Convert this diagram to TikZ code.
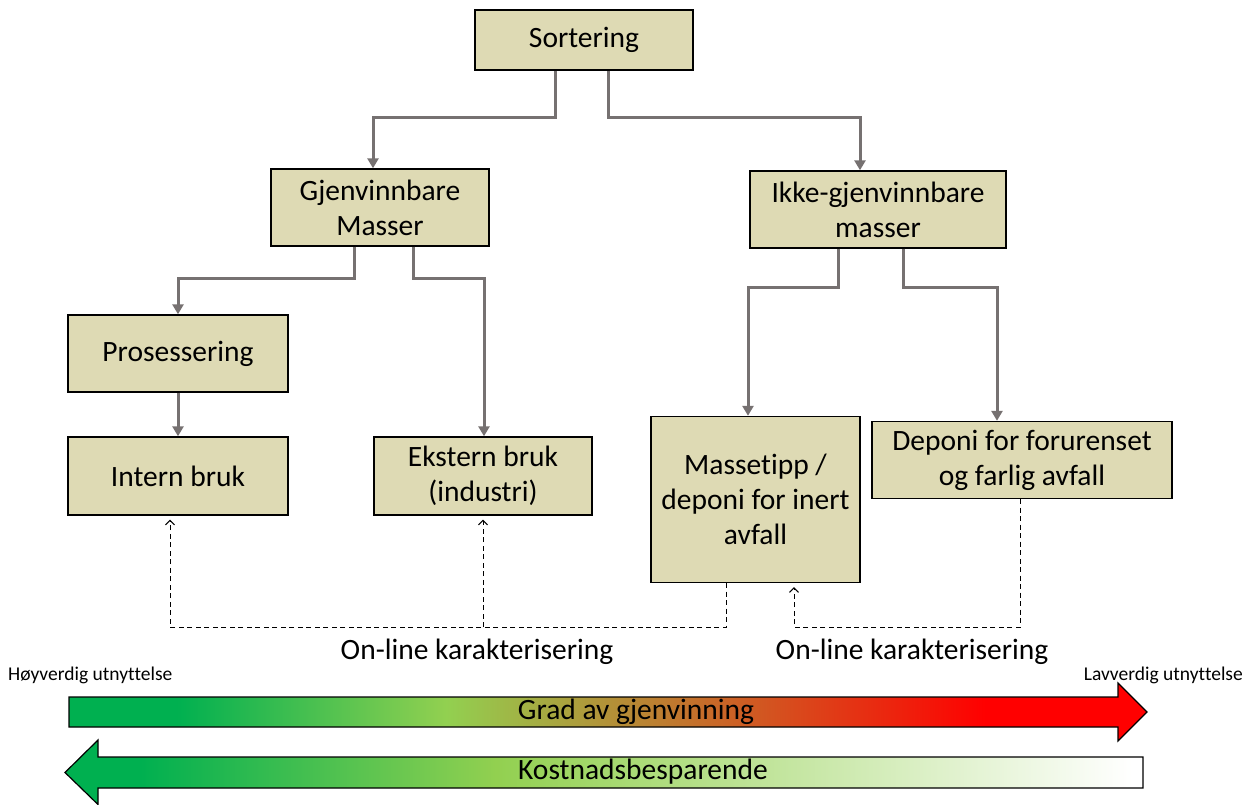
\documentclass[tikz,border=0pt]{standalone}
\usepackage{fontspec}
\setmainfont{Carlito}[Ligatures=NoCommon]
\usetikzlibrary{arrows.meta}
\definecolor{boxfill}{HTML}{DEDAB4}
\definecolor{conngray}{HTML}{767171}
\definecolor{cgreen}{HTML}{00B050}
\definecolor{clime}{HTML}{92D050}
\definecolor{cred}{HTML}{FF0000}
\pgfdeclarehorizontalshading{topgrad}{100bp}{color(0bp)=(cgreen); color(30bp)=(cgreen); color(42.5bp)=(clime); color(67.5bp)=(cred); color(100bp)=(cred)}
\pgfdeclarehorizontalshading{botgrad}{100bp}{color(0bp)=(cgreen); color(28.5bp)=(cgreen); color(45bp)=(clime); color(74.5bp)=(white); color(100bp)=(white)}
\tikzset{
  box/.style={draw=black, line width=1.4pt, fill=boxfill, inner sep=0pt, align=center,
    font=\fontsize{29.5}{35}\selectfont},
  conn/.style={draw=conngray, line width=3pt, -{Triangle[length=10pt,width=11pt]}},
  dashline/.style={draw=black, line width=1pt, dash pattern=on 5pt off 3.5pt},
  dasharrow/.style={dashline, -{Straight Barb[length=4.5pt,width=9pt,line width=1pt]}, shorten >=4pt},
  lbl/.style={font=\fontsize{29.5}{34}\selectfont, inner sep=0pt},
  small/.style={font=\fontsize{19.5}{22}\selectfont, inner sep=0pt},
}
\begin{document}
\begin{tikzpicture}[x=1pt,y=-1pt]
\useasboundingbox (0,0) rectangle (1254,805);
% boxes
\node[box, minimum width=218pt, minimum height=60pt] (sort) at (584,40) {Sortering};
\node[box, minimum width=218pt, minimum height=77pt] (gjen) at (380,207.5) {Gjenvinnbare\\Masser};
\node[box, minimum width=256pt, minimum height=77pt] (ikke) at (878,209.5) {Ikke-gjenvinnbare\\masser};
\node[box, minimum width=220pt, minimum height=77pt] (pros) at (178,353.5) {Prosessering};
\node[box, minimum width=220pt, minimum height=78pt] (intern) at (178,476) {Intern bruk};
\node[box, minimum width=218pt, minimum height=78pt] (ekst) at (483,476) {Ekstern bruk\\(industri)};
\node[box, minimum width=209pt, minimum height=166pt] (mass) at (755.5,499.5) {Massetipp /\\deponi for inert\\avfall};
\node[box, minimum width=300pt, minimum height=77pt] (dep) at (1022,460) {Deponi for forurenset\\og farlig avfall};
% gray connectors
\draw[conn] ([xshift=-29pt]sort.south) -- ++(0,47) -| ([xshift=-7pt]gjen.north);
\draw[conn] ([xshift=24pt]sort.south) -- ++(0,47) -| ([xshift=-18pt]ikke.north);
\draw[conn] ([xshift=-26pt]gjen.south) -- ++(0,32) -| (pros.north);
\draw[conn] ([xshift=33pt]gjen.south) -- ++(0,32) -| ([xshift=1pt]ekst.north);
\draw[conn] (pros.south) -- (intern.north);
\draw[conn] ([xshift=-40pt]ikke.south) -- ++(0,39) -| ([xshift=-7.5pt]mass.north);
\draw[conn] ([xshift=25pt]ikke.south) -- ++(0,39) -| ([xshift=-25pt]dep.north);
% dashed feedback
\coordinate (j1) at (ekst.south |- 0,627);
\draw[dasharrow] ([xshift=-29.5pt]mass.south) -- ++(0,44) -| ([xshift=-8pt]intern.south);
\draw[dasharrow] (j1) -- (ekst.south);
\draw[dasharrow] ([xshift=-2pt]dep.south) -- ++(0,128) -| ([xshift=38.5pt]mass.south);
\node[lbl] (on1) at (477,652) {On-line karakterisering};
\node[lbl] (on2) at (912,652) {On-line karakterisering};
% bottom scale
\node[small, anchor=west] (hoy) at (8,675) {Høyverdig utnyttelse};
\node[small, anchor=east] (lav) at (1243,675) {Lavverdig utnyttelse};
\shadedraw[shading=topgrad, draw=black, line width=1.2pt, line join=miter]
  (69,697) -- (1118,697) -- (1118,683) -- (1147,712) -- (1118,741) -- (1118,727) -- (69,727) -- cycle;
\shadedraw[shading=botgrad, draw=black, line width=1.2pt, line join=miter]
  (1143,757) -- (98,757) -- (98,740) -- (65,772.5) -- (98,804.5) -- (98,788) -- (1143,788) -- cycle;
\node[lbl] (grad) at (636,712) {Grad av gjenvinning};
\node[lbl] (kost) at (643,772) {Kostnadsbesparende};
\end{tikzpicture}
\end{document}
